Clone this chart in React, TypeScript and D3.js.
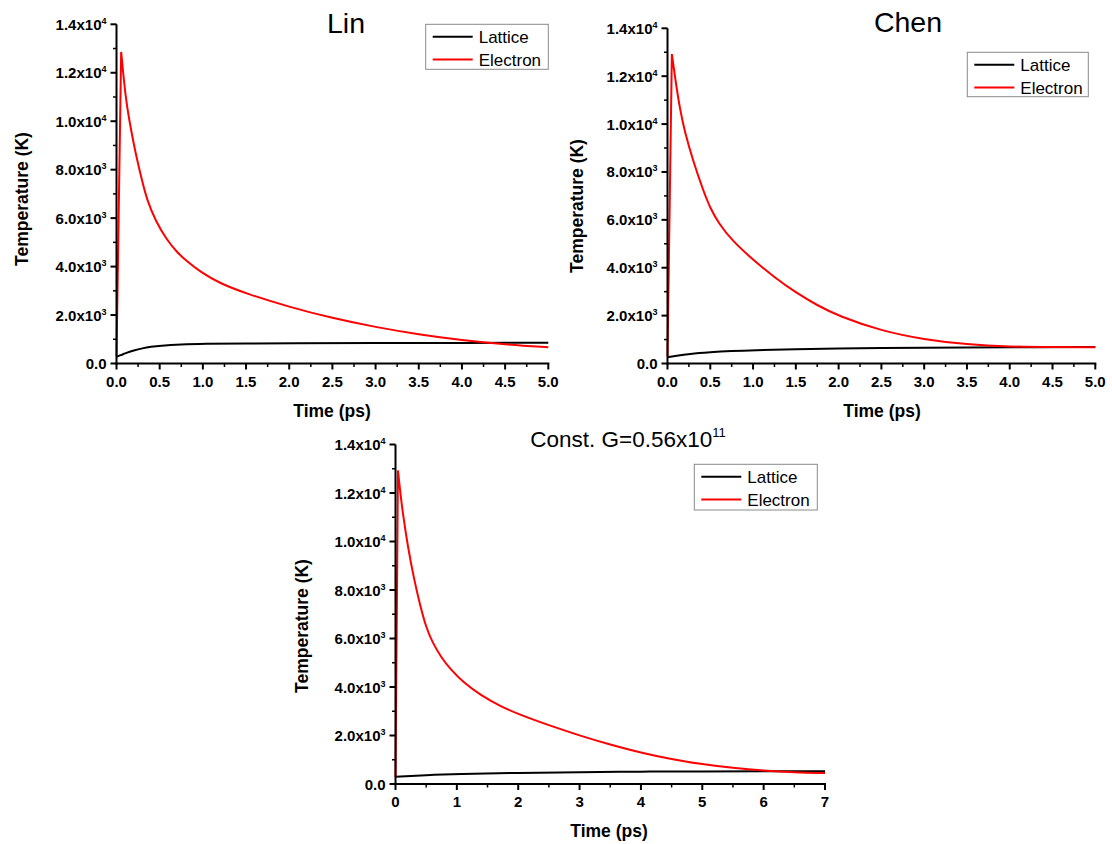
import React from "react";
import * as d3 from "d3";

// ---------- data ----------
const linElectronT = [0, 0.054, 0.104, 0.15, 0.2, 0.24, 0.3, 0.355, 0.45, 0.586, 0.7, 0.8, 0.97, 1.2, 1.5, 2.0, 2.5, 3.0, 3.5, 4.0, 4.5, 5.0];
const linElectronK = [300, 12860, 11000, 10000, 9050, 8390, 7480, 6735, 5900, 5080, 4600, 4260, 3780, 3300, 2890, 2330, 1870, 1500, 1200, 960, 790, 670];
const linLatticeT = [0, 0.05, 0.1, 0.2, 0.3, 0.4, 0.5, 0.75, 1.0, 1.5, 2.0, 3.0, 4.0, 5.0];
const linLatticeK = [280, 340, 420, 540, 630, 690, 735, 790, 815, 830, 838, 845, 850, 855];

const chenElectronT = [0, 0.051, 0.1, 0.148, 0.2, 0.3, 0.42, 0.5, 0.6, 0.75, 1.0, 1.25, 1.5, 1.75, 2.0, 2.5, 3.0, 3.5, 4.0, 4.5, 5.0];
const chenElectronK = [300, 12925, 11650, 10580, 9700, 8450, 7200, 6480, 5850, 5150, 4330, 3600, 2960, 2430, 1980, 1360, 1000, 790, 700, 685, 683];
const chenLatticeT = [0, 0.1, 0.25, 0.5, 0.75, 1.0, 1.5, 2.0, 2.5, 3.0, 3.5, 4.0, 5.0];
const chenLatticeK = [260, 320, 400, 470, 520, 555, 600, 628, 645, 658, 670, 680, 685];

const constElectronT = [0, 0.04, 0.08, 0.12, 0.2, 0.3, 0.4, 0.5, 0.6, 0.75, 0.9, 1.1, 1.4, 1.7, 2.0, 2.5, 3.0, 3.5, 4.0, 4.5, 5.0, 5.5, 6.0, 6.5, 7.0];
const constElectronK = [300, 12930, 11980, 11150, 9800, 8470, 7380, 6450, 5850, 5200, 4720, 4200, 3640, 3220, 2880, 2420, 2000, 1620, 1290, 1020, 810, 660, 550, 480, 450];
const constLatticeT = [0, 0.5, 1, 2, 3, 4, 5, 6, 7];
const constLatticeK = [300, 370, 415, 460, 490, 510, 520, 525, 525];

const yTicks = [0, 2000, 4000, 6000, 8000, 10000, 12000, 14000];
const yMinorTicks = [1000, 3000, 5000, 7000, 9000, 11000, 13000];
const xTicks5 = [0, 0.5, 1, 1.5, 2, 2.5, 3, 3.5, 4, 4.5, 5];
const xMinor5 = [0.25, 0.75, 1.25, 1.75, 2.25, 2.75, 3.25, 3.75, 4.25, 4.75];
const xTicks7 = [0, 1, 2, 3, 4, 5, 6, 7];
const xMinor7 = [0.5, 1.5, 2.5, 3.5, 4.5, 5.5, 6.5];

const seriesNames = ["Lattice", "Electron"];
const seriesColors = ["#000000", "#ff0000"];

const FONT = "'Liberation Sans', Arial, Helvetica, sans-serif";

function zip(t: number[], k: number[]) {
  return t.map((v, i) => [v, k[i]] as [number, number]);
}

function yLabel(v: number) {
  if (v === 0) return { main: "0.0", sup: "" };
  const e = Math.floor(Math.log10(v));
  const m = v / Math.pow(10, e);
  return { main: m.toFixed(1) + "x10", sup: String(e) };
}

type PanelProps = {
  xDomain: [number, number];
  xRange: [number, number];
  yRange: [number, number];
  xTicks: number[];
  xMinor: number[];
  xFmt: (v: number) => string;
  lattice: [number, number][];
  electron: [number, number][];
  title: React.ReactNode;
  titleX: number;
  titleY: number;
  titleSize: number;
  legend: { x: number; y: number; w: number; h: number };
  yTitle: { x: number; y: number };
  xTitle: { x: number; y: number };
};

function Panel(p: PanelProps) {
  const x = d3.scaleLinear().domain(p.xDomain).range(p.xRange);
  const y = d3.scaleLinear().domain([0, 14000]).range(p.yRange);
  const smooth = d3
    .line<[number, number]>()
    .x((d) => x(d[0]))
    .y((d) => y(d[1]))
    .curve(d3.curveBasis);
  const straight = d3
    .line<[number, number]>()
    .x((d) => x(d[0]))
    .y((d) => y(d[1]));
  // electron: straight rise to the peak, smooth decay after it
  let peak = 0;
  p.electron.forEach((d, i) => {
    if (d[1] > p.electron[peak][1]) peak = i;
  });
  const rise = p.electron.slice(0, peak + 1);
  const decay = p.electron.slice(peak);
  const x0 = p.xRange[0];
  const y0 = p.yRange[0];
  const lg = p.legend;
  return (
    <g>
      <path d={smooth(p.lattice) || ""} fill="none" stroke={seriesColors[0]} strokeWidth={2} />
      <path
        d={(straight(rise) || "") + (smooth(decay) || "")}
        fill="none"
        stroke={seriesColors[1]}
        strokeWidth={2}
        strokeLinejoin="round"
      />
      {/* y axis */}
      <line x1={x0} x2={x0} y1={y0 + 1} y2={p.yRange[1]} stroke="#000" strokeWidth={2} />
      {yTicks.map((v) => (
        <line key={"yt" + v} x1={x0 - 6} x2={x0} y1={y(v)} y2={y(v)} stroke="#000" strokeWidth={2} />
      ))}
      {yMinorTicks.map((v) => (
        <line key={"ym" + v} x1={x0 - 3.5} x2={x0} y1={y(v)} y2={y(v)} stroke="#000" strokeWidth={1.5} />
      ))}
      {yTicks.map((v) => {
        const l = yLabel(v);
        return (
          <text
            key={"yl" + v}
            x={x0 - 10}
            y={y(v) + 5.5}
            textAnchor="end"
            fontFamily={FONT}
            fontWeight="bold"
            fontSize={15}
            fill="#000"
          >
            {l.main}
            {l.sup ? (
              <tspan fontSize={9} dy={-6}>
                {l.sup}
              </tspan>
            ) : null}
          </text>
        );
      })}
      {/* x axis */}
      <line x1={x0 - 1} x2={p.xRange[1] + 1} y1={y0} y2={y0} stroke="#000" strokeWidth={2} />
      {p.xTicks.map((v) => (
        <line key={"xt" + v} x1={x(v)} x2={x(v)} y1={y0} y2={y0 + 6} stroke="#000" strokeWidth={2} />
      ))}
      {p.xMinor.map((v) => (
        <line key={"xm" + v} x1={x(v)} x2={x(v)} y1={y0} y2={y0 + 3.5} stroke="#000" strokeWidth={1.5} />
      ))}
      {p.xTicks.map((v) => (
        <text
          key={"xl" + v}
          x={x(v)}
          y={y0 + 23}
          textAnchor="middle"
          fontFamily={FONT}
          fontWeight="bold"
          fontSize={15}
          fill="#000"
        >
          {p.xFmt(v)}
        </text>
      ))}
      {/* axis titles */}
      <text
        x={p.xTitle.x}
        y={p.xTitle.y}
        textAnchor="middle"
        fontFamily={FONT}
        fontWeight="bold"
        fontSize={17.5}
        fill="#000"
      >
        Time (ps)
      </text>
      <text
        transform={`translate(${p.yTitle.x},${p.yTitle.y}) rotate(-90)`}
        textAnchor="middle"
        fontFamily={FONT}
        fontWeight="bold"
        fontSize={17.5}
        fill="#000"
      >
        Temperature (K)
      </text>
      {/* title */}
      <text x={p.titleX} y={p.titleY} textAnchor="middle" fontFamily={FONT} fontSize={p.titleSize} fill="#000">
        {p.title}
      </text>
      {/* legend */}
      <rect x={lg.x} y={lg.y} width={lg.w} height={lg.h} fill="#fff" stroke="#8a8a8a" strokeWidth={1} />
      {seriesNames.map((n, i) => {
        const ly = lg.y + 12.4 + i * 22.8;
        return (
          <g key={n}>
            <line x1={lg.x + 7} x2={lg.x + 47} y1={ly} y2={ly} stroke={seriesColors[i]} strokeWidth={2} />
            <text x={lg.x + 53} y={ly + 6} fontFamily={FONT} fontSize={17} fill="#000">
              {n}
            </text>
          </g>
        );
      })}
    </g>
  );
}

export default function App() {
  const fmt1 = (v: number) => v.toFixed(1);
  const fmt0 = (v: number) => v.toFixed(0);
  return (
    <svg
      width={1112}
      height={844}
      style={{ position: "absolute", left: 0, top: 0, background: "#fff" }}
    >
      <rect x={0} y={0} width={1112} height={844} fill="#fff" />
      <Panel
        xDomain={[0, 5]}
        xRange={[116.5, 548.3]}
        yRange={[363.5, 24.3]}
        xTicks={xTicks5}
        xMinor={xMinor5}
        xFmt={fmt1}
        lattice={zip(linLatticeT, linLatticeK)}
        electron={zip(linElectronT, linElectronK)}
        title="Lin"
        titleX={346}
        titleY={32.5}
        titleSize={28.5}
        legend={{ x: 425.7, y: 24.3, w: 122.6, h: 45 }}
        yTitle={{ x: 28, y: 199 }}
        xTitle={{ x: 332, y: 417 }}
      />
      <Panel
        xDomain={[0, 5]}
        xRange={[667.5, 1095.3]}
        yRange={[363.5, 28.3]}
        xTicks={xTicks5}
        xMinor={xMinor5}
        xFmt={fmt1}
        lattice={zip(chenLatticeT, chenLatticeK)}
        electron={zip(chenElectronT, chenElectronK)}
        title="Chen"
        titleX={908}
        titleY={32.3}
        titleSize={28.5}
        legend={{ x: 967.3, y: 52.3, w: 121, h: 44.4 }}
        yTitle={{ x: 583, y: 206 }}
        xTitle={{ x: 882, y: 417 }}
      />
      <Panel
        xDomain={[0, 7]}
        xRange={[395.5, 825]}
        yRange={[784, 444.5]}
        xTicks={xTicks7}
        xMinor={xMinor7}
        xFmt={fmt0}
        lattice={zip(constLatticeT, constLatticeK)}
        electron={zip(constElectronT, constElectronK)}
        title={
          <>
            Const. G=0.56x10
            <tspan fontSize={13} dy={-10}>
              11
            </tspan>
          </>
        }
        titleX={628}
        titleY={447}
        titleSize={22.5}
        legend={{ x: 694.3, y: 464.3, w: 123, h: 45.7 }}
        yTitle={{ x: 308, y: 626 }}
        xTitle={{ x: 609, y: 836.5 }}
      />
    </svg>
  );
}
